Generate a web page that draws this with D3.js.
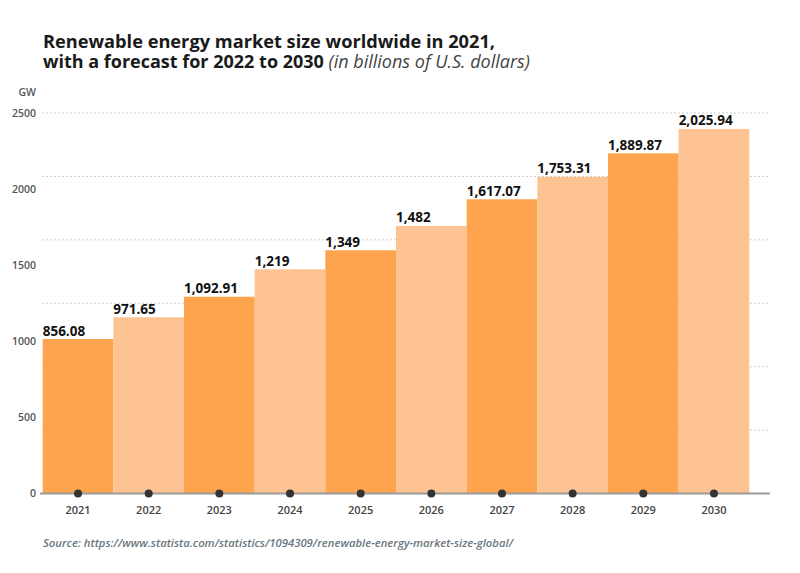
<!DOCTYPE html>
<html>
<head>
<meta charset="utf-8">
<script src="https://cdn.jsdelivr.net/npm/d3@7"></script>
<style>
  body { margin: 0; background: #fff; }
  svg { font-family: "Open Sans", sans-serif; }
</style>
</head>
<body>
<svg id="chart" width="800" height="573"></svg>
<script>
// years, bar heights as drawn (axis units) and the printed value labels
var years = ["2021", "2022", "2023", "2024", "2025", "2026", "2027", "2028", "2029", "2030"];
var barValues = [1015, 1158, 1293, 1473, 1598, 1758, 1933, 2081, 2235, 2395];
var valueLabels = ["856.08", "971.65", "1,092.91", "1,219", "1,349", "1,482", "1,617.07", "1,753.31", "1,889.87", "2,025.94"];
var yTicks = [0, 500, 1000, 1500, 2000, 2500];
// dotted guide lines split the plot in six equal steps
var gridSteps = [1, 2, 3, 4, 5, 6];

var colors = ["#fea44f", "#fec393"];

var svg = d3.select("#chart");

var x = d3.scaleBand()
    .domain(years)
    .range([42.7, 749.3])
    .padding(0);

var y = d3.scaleLinear()
    .domain([0, 2500])
    .range([493.5, 113]);

var gridY = d3.scaleLinear()
    .domain([0, 6])
    .range([493.5, 113]);

// title, two lines
svg.append("text")
    .attr("x", 43)
    .attr("y", 47.8)
    .attr("font-size", 18)
    .attr("font-weight", 700)
    .attr("fill", "#1a1a1a")
    .attr("textLength", 452)
    .attr("lengthAdjust", "spacingAndGlyphs")
    .text("Renewable energy market size worldwide in 2021,");

var title2 = svg.append("text")
    .attr("x", 43)
    .attr("y", 67.8)
    .attr("font-size", 18)
    .attr("font-weight", 700)
    .attr("fill", "#1a1a1a");
title2.append("tspan").text("with a forecast for 2022 to 2030 ");
title2.append("tspan")
    .attr("font-weight", 400)
    .attr("font-style", "italic")
    .attr("fill", "#444")
    .text("(in billions of U.S. dollars)");

// grid
svg.append("g")
    .selectAll("line")
    .data(gridSteps)
    .enter().append("line")
    .attr("x1", 42)
    .attr("x2", 770)
    .attr("y1", function(d) { return gridY(d); })
    .attr("y2", function(d) { return gridY(d); })
    .attr("stroke", "#cfcfcf")
    .attr("stroke-width", 1)
    .attr("stroke-dasharray", "2,2");

// y labels
svg.append("g")
    .selectAll("text")
    .data(yTicks)
    .enter().append("text")
    .attr("x", 36)
    .attr("y", function(d) { return y(d); })
    .attr("dy", "0.35em")
    .attr("text-anchor", "end")
    .attr("font-size", 10.5)
    .attr("font-weight", 600)
    .attr("fill", "#555")
    .text(function(d) { return d; });

svg.append("text")
    .attr("x", 36)
    .attr("y", 96)
    .attr("text-anchor", "end")
    .attr("font-size", 10.5)
    .attr("font-weight", 600)
    .attr("fill", "#555")
    .text("GW");

// bars
svg.append("g")
    .selectAll("rect")
    .data(barValues)
    .enter().append("rect")
    .attr("x", function(d, i) { return x(years[i]); })
    .attr("y", function(d) { return y(d); })
    .attr("width", x.bandwidth())
    .attr("height", function(d) { return y(0) - y(d); })
    .attr("fill", function(d, i) { return colors[i % 2]; });

// value labels
svg.append("g")
    .selectAll("text")
    .data(barValues)
    .enter().append("text")
    .attr("x", function(d, i) { return x(years[i]); })
    .attr("y", function(d) { return y(d) - 3.5; })
    .attr("font-size", 13.5)
    .attr("font-weight", 700)
    .attr("fill", "#111")
    .text(function(d, i) { return valueLabels[i]; });

// baseline
svg.append("line")
    .attr("x1", 40)
    .attr("x2", 770)
    .attr("y1", y(0))
    .attr("y2", y(0))
    .attr("stroke", "#9a9a9a")
    .attr("stroke-width", 2);

// dots on the baseline
svg.append("g")
    .selectAll("circle")
    .data(years)
    .enter().append("circle")
    .attr("cx", function(d) { return x(d) + x.bandwidth() / 2; })
    .attr("cy", y(0))
    .attr("r", 4)
    .attr("fill", "#333");

// x labels
svg.append("g")
    .selectAll("text")
    .data(years)
    .enter().append("text")
    .attr("x", function(d) { return x(d) + x.bandwidth() / 2; })
    .attr("y", 514)
    .attr("text-anchor", "middle")
    .attr("font-size", 11)
    .attr("font-weight", 600)
    .attr("fill", "#444")
    .text(function(d) { return d; });

// source
svg.append("text")
    .attr("x", 43)
    .attr("y", 547)
    .attr("font-size", 10)
    .attr("font-style", "italic")
    .attr("font-weight", 600)
    .attr("fill", "#6a7680")
    .attr("textLength", 470)
    .attr("lengthAdjust", "spacingAndGlyphs")
    .text("Source: https://www.statista.com/statistics/1094309/renewable-energy-market-size-global/");
</script>
</body>
</html>
